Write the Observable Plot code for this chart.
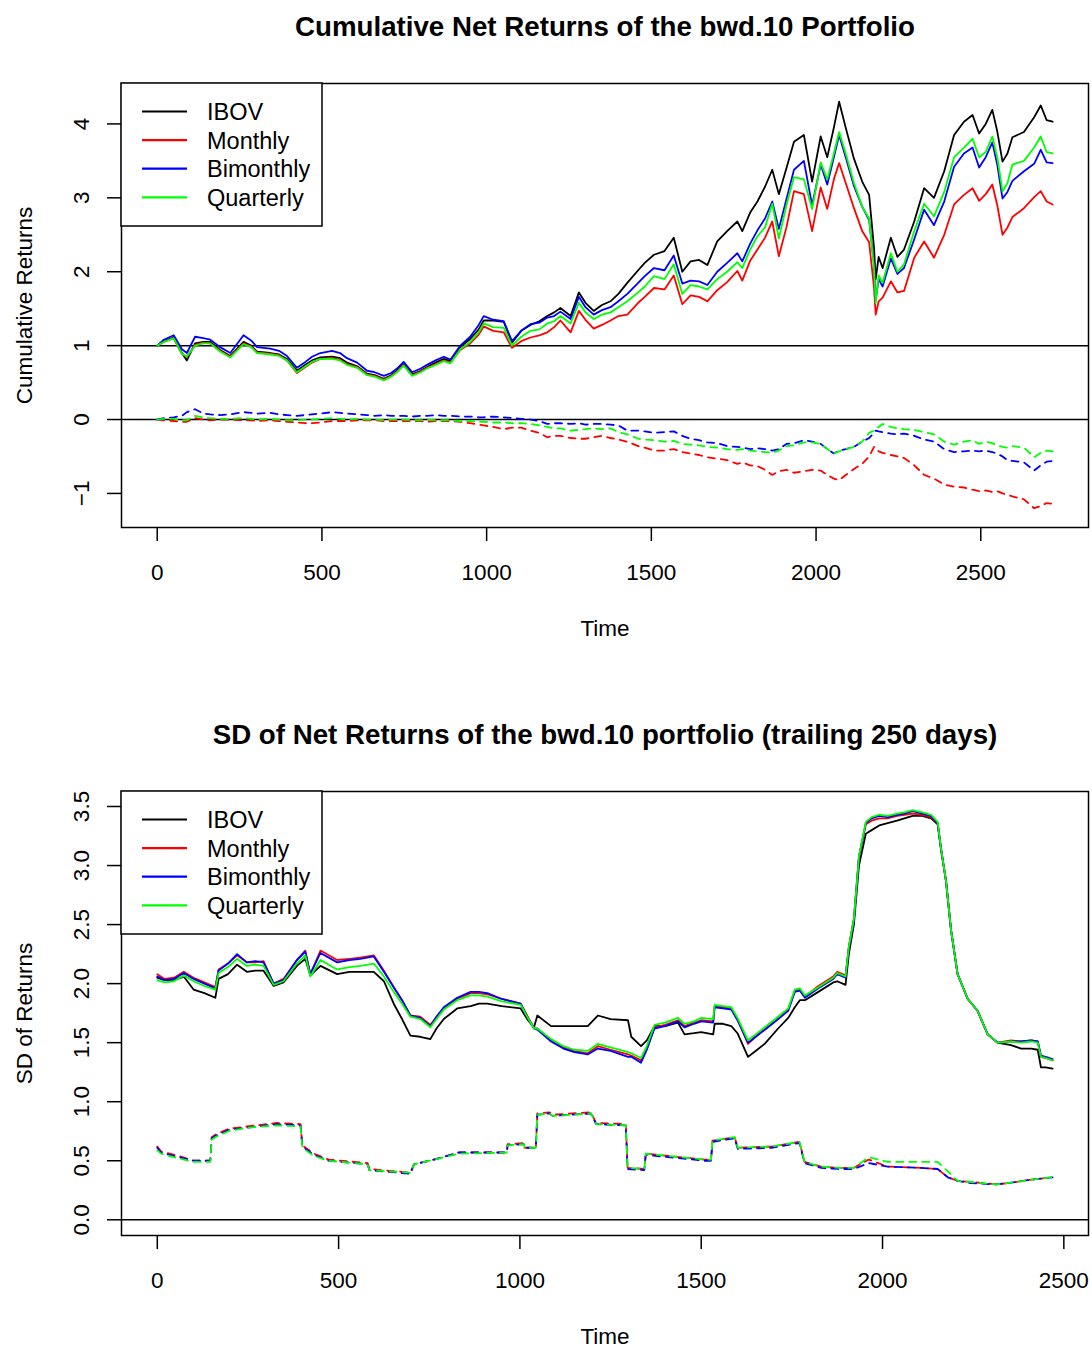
<!DOCTYPE html>
<html><head><meta charset="utf-8">
<script src="https://cdn.jsdelivr.net/npm/d3@7"></script>
<script src="https://cdn.jsdelivr.net/npm/@observablehq/plot@0.6"></script>
<style>
body{margin:0;background:#fff;}
#chart{width:1092px;}
#chart svg{display:block;}
</style></head><body><div id="chart"></div>
<script>
// ---------- shared ----------
const seriesNames = ["IBOV", "Monthly", "Bimonthly", "Quarterly"];
const seriesColors = ["#000000", "#FF0000", "#0000FF", "#00FF00"];

// ---------- panel 1: cumulative net returns ----------
const cumTitle = "Cumulative Net Returns of the bwd.10 Portfolio";
const cumYLabel = "Cumulative Returns";
const cumXTicks = [0, 500, 1000, 1500, 2000, 2500];
const cumYTicks = [-1, 0, 1, 2, 3, 4];
const cumRefLines = [0, 1];
const cumTime = [0,20,50,75,90,115,140,161,191,222,
262,285,303,343,370,394,424,450,470,495,
531,555,576,607,637,660,688,710,728,748,
774,800,819,845,870,890,920,950,976,991,
1020,1052,1077,1105,1133,1160,1184,1205,1224,1255,
1280,1300,1325,1350,1376,1400,1427,1460,1480,1508,
1540,1568,1594,1619,1645,1670,1700,1730,1761,1776,
1800,1822,1845,1867,1887,1910,1933,1963,1988,2014,
2034,2054,2070,2090,2115,2140,2161,2176,2181,2190,
2202,2227,2247,2267,2298,2328,2358,2389,2419,2449,
2475,2495,2515,2535,2550,2566,2581,2596,2631,2662,
2682,2700,2718];
const cumIBOV = [1.00,1.06,1.11,0.90,0.80,1.03,1.05,1.05,0.94,0.86,
1.05,1.00,0.92,0.90,0.88,0.82,0.66,0.74,0.80,0.84,
0.85,0.83,0.77,0.72,0.62,0.60,0.55,0.60,0.66,0.75,
0.61,0.66,0.71,0.77,0.82,0.79,0.98,1.09,1.22,1.34,
1.34,1.32,1.04,1.20,1.28,1.33,1.40,1.45,1.51,1.40,
1.72,1.58,1.47,1.55,1.60,1.70,1.85,2.02,2.12,2.23,
2.28,2.46,2.00,2.14,2.16,2.09,2.41,2.55,2.68,2.55,
2.80,2.95,3.15,3.38,3.05,3.40,3.76,3.85,3.22,3.83,
3.55,3.95,4.30,3.95,3.53,3.22,3.04,2.32,1.90,2.20,
2.05,2.46,2.20,2.30,2.68,3.13,3.00,3.36,3.85,4.03,
4.12,3.87,4.00,4.19,3.90,3.49,3.60,3.82,3.89,4.09,
4.25,4.05,4.03];
const cumMonthly = [1.00,1.05,1.10,0.89,0.85,1.01,1.04,1.03,0.93,0.85,
1.03,0.99,0.91,0.89,0.87,0.80,0.63,0.71,0.77,0.82,
0.83,0.81,0.75,0.71,0.61,0.59,0.54,0.59,0.65,0.74,
0.60,0.65,0.70,0.75,0.80,0.77,0.94,1.03,1.15,1.26,
1.20,1.18,0.97,1.06,1.11,1.14,1.18,1.25,1.34,1.18,
1.47,1.35,1.23,1.28,1.34,1.40,1.42,1.58,1.66,1.78,
1.76,1.95,1.56,1.68,1.66,1.60,1.75,1.86,2.01,1.88,
2.15,2.30,2.46,2.68,2.21,2.60,3.09,3.05,2.55,3.14,
2.85,3.25,3.47,3.20,2.86,2.55,2.40,1.78,1.42,1.60,
1.65,1.87,1.72,1.74,2.19,2.41,2.19,2.50,2.91,3.04,
3.13,2.96,3.05,3.18,2.90,2.50,2.60,2.74,2.86,3.01,
3.09,2.95,2.91];
const cumBimonthly = [1.00,1.08,1.14,0.95,0.90,1.12,1.10,1.08,0.98,0.90,
1.14,1.07,0.98,0.96,0.93,0.86,0.70,0.78,0.85,0.90,
0.93,0.90,0.83,0.77,0.66,0.64,0.59,0.63,0.69,0.78,
0.64,0.69,0.74,0.80,0.85,0.81,1.00,1.12,1.28,1.40,
1.35,1.33,1.06,1.20,1.29,1.31,1.38,1.40,1.46,1.36,
1.66,1.52,1.42,1.48,1.52,1.60,1.70,1.85,1.94,2.05,
2.02,2.22,1.84,1.88,1.87,1.82,2.00,2.12,2.25,2.14,
2.38,2.56,2.72,2.95,2.58,2.98,3.38,3.50,2.90,3.45,
3.18,3.55,3.85,3.55,3.16,2.88,2.70,2.10,1.62,1.90,
1.80,2.18,1.97,2.05,2.44,2.84,2.63,2.95,3.42,3.60,
3.68,3.41,3.55,3.75,3.45,2.99,3.08,3.23,3.36,3.46,
3.65,3.48,3.47];
const cumQuarterly = [1.00,1.05,1.10,0.89,0.85,1.00,1.03,1.03,0.92,0.84,
1.02,0.98,0.90,0.88,0.86,0.80,0.64,0.72,0.78,0.82,
0.82,0.80,0.74,0.70,0.60,0.58,0.53,0.58,0.64,0.73,
0.59,0.64,0.69,0.74,0.79,0.76,0.95,1.05,1.18,1.30,
1.25,1.24,1.00,1.12,1.20,1.22,1.30,1.33,1.40,1.30,
1.58,1.45,1.36,1.42,1.45,1.52,1.60,1.72,1.80,1.94,
1.90,2.10,1.70,1.82,1.80,1.76,1.90,2.00,2.13,2.05,
2.30,2.48,2.60,2.92,2.45,2.90,3.28,3.25,2.85,3.48,
3.25,3.60,3.89,3.60,3.20,2.88,2.72,2.05,1.58,1.95,
1.85,2.25,2.00,2.10,2.55,2.92,2.75,3.08,3.55,3.68,
3.80,3.55,3.62,3.83,3.55,3.09,3.20,3.45,3.50,3.68,
3.83,3.62,3.60];
const cumDiffMonthly = [0.00,-0.01,-0.02,-0.03,-0.03,0.02,0.00,-0.01,0.00,0.00,
-0.01,-0.01,-0.02,-0.01,-0.02,-0.03,-0.04,-0.05,-0.05,-0.04,
-0.02,-0.02,-0.02,-0.01,-0.01,-0.01,-0.02,-0.02,-0.02,-0.02,
-0.02,-0.02,-0.03,-0.02,-0.02,-0.02,-0.03,-0.05,-0.07,-0.08,
-0.10,-0.13,-0.11,-0.11,-0.15,-0.18,-0.24,-0.22,-0.22,-0.25,
-0.26,-0.26,-0.24,-0.22,-0.25,-0.27,-0.30,-0.36,-0.38,-0.42,
-0.42,-0.40,-0.44,-0.46,-0.48,-0.51,-0.53,-0.55,-0.60,-0.58,
-0.62,-0.63,-0.68,-0.75,-0.70,-0.68,-0.72,-0.70,-0.68,-0.69,
-0.75,-0.80,-0.82,-0.75,-0.67,-0.60,-0.50,-0.37,-0.40,-0.43,
-0.45,-0.48,-0.50,-0.52,-0.62,-0.75,-0.80,-0.88,-0.91,-0.92,
-0.95,-0.97,-0.96,-0.98,-0.97,-1.00,-1.02,-1.04,-1.08,-1.20,
-1.17,-1.13,-1.14];
const cumDiffBimonthly = [0.00,0.02,0.03,0.05,0.10,0.14,0.08,0.07,0.06,0.07,
0.10,0.09,0.08,0.09,0.07,0.06,0.05,0.06,0.07,0.08,
0.10,0.09,0.08,0.07,0.06,0.05,0.06,0.05,0.05,0.05,
0.04,0.05,0.05,0.06,0.05,0.05,0.04,0.04,0.03,0.03,
0.04,0.03,0.02,0.01,0.00,-0.02,-0.06,-0.05,-0.05,-0.06,
-0.05,-0.07,-0.06,-0.06,-0.07,-0.08,-0.15,-0.15,-0.16,-0.18,
-0.17,-0.16,-0.22,-0.26,-0.28,-0.31,-0.32,-0.36,-0.37,-0.38,
-0.40,-0.39,-0.40,-0.42,-0.40,-0.33,-0.32,-0.28,-0.30,-0.33,
-0.40,-0.46,-0.42,-0.40,-0.37,-0.30,-0.25,-0.18,-0.15,-0.16,
-0.17,-0.19,-0.20,-0.19,-0.22,-0.27,-0.30,-0.40,-0.44,-0.43,
-0.42,-0.43,-0.42,-0.44,-0.46,-0.50,-0.55,-0.56,-0.58,-0.69,
-0.62,-0.57,-0.56];
const cumDiffQuarterly = [0.00,0.01,0.01,-0.01,-0.01,0.05,0.03,0.02,0.01,0.01,
0.02,0.01,0.00,0.01,0.00,-0.01,-0.01,0.00,0.00,0.01,
0.02,0.01,0.00,0.01,0.00,0.00,-0.01,0.00,0.00,0.00,
-0.01,-0.01,0.00,-0.01,-0.01,-0.01,-0.02,-0.02,-0.03,-0.03,
-0.04,-0.04,-0.05,-0.05,-0.06,-0.08,-0.10,-0.12,-0.12,-0.15,
-0.14,-0.13,-0.12,-0.13,-0.12,-0.17,-0.20,-0.26,-0.27,-0.28,
-0.30,-0.29,-0.33,-0.34,-0.35,-0.37,-0.38,-0.40,-0.41,-0.40,
-0.42,-0.43,-0.44,-0.45,-0.42,-0.36,-0.35,-0.31,-0.31,-0.33,
-0.40,-0.46,-0.43,-0.40,-0.37,-0.30,-0.18,-0.15,-0.12,-0.10,
-0.06,-0.10,-0.12,-0.13,-0.14,-0.17,-0.20,-0.30,-0.34,-0.30,
-0.28,-0.33,-0.30,-0.32,-0.35,-0.37,-0.38,-0.36,-0.38,-0.51,
-0.45,-0.42,-0.43];

// ---------- panel 2: rolling SD ----------
const sdTitle = "SD of Net Returns of the bwd.10 portfolio (trailing 250 days)";
const sdYLabel = "SD of Returns";
const sdXTicks = [0, 500, 1000, 1500, 2000, 2500];
const sdYTicks = [0, 0.5, 1, 1.5, 2, 2.5, 3, 3.5];
const sdRefLines = [0];
const sdTime = [0,20,46,73,100,130,160,169,195,220,
247,270,293,321,348,385,408,422,450,496,
530,560,597,625,652,675,698,725,753,770,
790,827,864,887,910,950,1002,1020,1039,1048,
1086,1120,1150,1187,1215,1250,1298,1307,1334,1350,
1371,1400,1436,1454,1480,1500,1533,1537,1560,1583,
1600,1629,1650,1675,1712,1740,1758,1772,1786,1823,
1864,1875,1898,1907,1921,1935,1954,1970,1991,2014,
2040,2060,2083,2110,2134,2152,2161,2175,2189,2207,
2235,2262,2290,2317,2354,2382,2410,2428,2437,2450,
2469];
const sdIBOV = [2.05,2.03,2.03,2.06,1.95,1.92,1.88,2.04,2.08,2.16,
2.10,2.11,2.11,1.98,2.01,2.15,2.21,2.07,2.15,2.08,
2.10,2.10,2.10,2.02,1.83,1.70,1.56,1.55,1.53,1.62,
1.70,1.79,1.81,1.83,1.83,1.81,1.79,1.70,1.63,1.73,
1.64,1.64,1.64,1.64,1.73,1.70,1.69,1.55,1.47,1.52,
1.64,1.64,1.67,1.57,1.58,1.59,1.57,1.66,1.66,1.64,
1.58,1.38,1.43,1.49,1.62,1.71,1.80,1.86,1.86,1.93,
2.01,2.02,1.99,2.25,2.50,3.00,3.27,3.30,3.34,3.36,
3.38,3.40,3.42,3.42,3.40,3.35,3.14,2.87,2.45,2.08,
1.87,1.77,1.57,1.50,1.48,1.45,1.45,1.44,1.29,1.29,
1.28];
const sdMonthly = [2.08,2.04,2.05,2.10,2.05,2.01,1.97,2.12,2.17,2.24,
2.18,2.18,2.19,2.00,2.04,2.20,2.28,2.08,2.28,2.20,
2.21,2.22,2.24,2.11,1.97,1.86,1.73,1.72,1.65,1.72,
1.79,1.87,1.92,1.92,1.91,1.87,1.83,1.73,1.62,1.62,
1.52,1.46,1.43,1.41,1.47,1.44,1.40,1.39,1.35,1.45,
1.63,1.65,1.69,1.64,1.67,1.69,1.68,1.81,1.80,1.79,
1.70,1.49,1.55,1.61,1.70,1.78,1.94,1.95,1.89,1.98,
2.06,2.10,2.07,2.31,2.55,3.08,3.35,3.38,3.40,3.40,
3.42,3.43,3.44,3.43,3.41,3.36,3.15,2.87,2.45,2.08,
1.87,1.77,1.57,1.50,1.52,1.51,1.52,1.51,1.38,1.37,
1.35];
const sdBimonthly = [2.06,2.03,2.04,2.09,2.04,2.00,1.96,2.11,2.17,2.25,
2.18,2.19,2.18,2.00,2.03,2.20,2.27,2.08,2.26,2.18,
2.20,2.21,2.23,2.10,1.97,1.86,1.73,1.71,1.64,1.72,
1.80,1.88,1.93,1.93,1.92,1.87,1.83,1.72,1.62,1.61,
1.51,1.45,1.42,1.40,1.45,1.43,1.38,1.38,1.33,1.44,
1.62,1.64,1.68,1.63,1.66,1.68,1.67,1.80,1.79,1.78,
1.69,1.50,1.55,1.61,1.70,1.77,1.93,1.94,1.88,1.96,
2.04,2.08,2.05,2.30,2.54,3.07,3.36,3.40,3.42,3.41,
3.43,3.44,3.46,3.44,3.42,3.36,3.15,2.87,2.45,2.08,
1.87,1.77,1.57,1.50,1.51,1.51,1.52,1.51,1.39,1.38,
1.36];
const sdQuarterly = [2.03,2.01,2.02,2.07,2.02,1.98,1.95,2.09,2.14,2.21,
2.15,2.16,2.15,1.99,2.02,2.17,2.24,2.06,2.20,2.12,
2.14,2.15,2.17,2.06,1.93,1.83,1.72,1.70,1.63,1.70,
1.78,1.86,1.90,1.90,1.89,1.85,1.82,1.72,1.62,1.62,
1.53,1.47,1.44,1.43,1.49,1.46,1.42,1.41,1.37,1.47,
1.65,1.67,1.71,1.66,1.68,1.71,1.70,1.82,1.81,1.80,
1.71,1.52,1.57,1.63,1.72,1.79,1.95,1.96,1.90,1.97,
2.05,2.09,2.06,2.31,2.55,3.08,3.37,3.41,3.43,3.42,
3.44,3.45,3.47,3.45,3.43,3.37,3.15,2.87,2.45,2.08,
1.87,1.77,1.57,1.50,1.51,1.50,1.51,1.50,1.38,1.37,
1.35];
const sdDiffTime = [0,10,34,60,100,146,150,160,196,247,
330,395,400,432,473,580,585,698,708,763,
832,964,966,1011,1013,1044,1048,1081,1090,1196,
1210,1292,1297,1343,1347,1380,1509,1527,1531,1592,
1601,1693,1771,1785,1831,1880,1921,1962,2014,2106,
2152,2180,2207,2244,2313,2345,2410,2469];
const sdDiffMonthly = [0.62,0.58,0.56,0.54,0.50,0.50,0.70,0.72,0.77,0.79,
0.82,0.81,0.63,0.56,0.51,0.48,0.43,0.40,0.47,0.51,
0.57,0.57,0.64,0.65,0.61,0.61,0.90,0.91,0.89,0.91,
0.82,0.81,0.44,0.43,0.56,0.55,0.51,0.51,0.67,0.70,
0.61,0.62,0.66,0.49,0.45,0.44,0.44,0.51,0.45,0.44,
0.43,0.36,0.33,0.32,0.30,0.31,0.34,0.36];
const sdDiffBimonthly = [0.61,0.57,0.55,0.53,0.50,0.50,0.69,0.71,0.76,0.78,
0.81,0.80,0.62,0.55,0.50,0.47,0.42,0.39,0.47,0.51,
0.57,0.57,0.63,0.64,0.61,0.61,0.89,0.90,0.88,0.90,
0.81,0.80,0.43,0.42,0.55,0.54,0.50,0.50,0.66,0.69,
0.60,0.61,0.65,0.48,0.44,0.43,0.43,0.48,0.45,0.44,
0.43,0.36,0.33,0.31,0.30,0.31,0.34,0.36];
const sdDiffQuarterly = [0.59,0.56,0.54,0.52,0.49,0.49,0.68,0.70,0.75,0.78,
0.80,0.79,0.61,0.54,0.50,0.47,0.42,0.40,0.47,0.51,
0.56,0.57,0.63,0.64,0.61,0.61,0.89,0.90,0.88,0.90,
0.81,0.80,0.44,0.43,0.56,0.55,0.51,0.51,0.67,0.70,
0.61,0.62,0.66,0.49,0.45,0.44,0.44,0.53,0.49,0.49,
0.49,0.41,0.33,0.32,0.30,0.31,0.34,0.36];

// ---------- drawing ----------
const FONT = "'Liberation Sans', Arial, Helvetica, sans-serif";
const FS = 22.5;
const LEGEND_FS = 23.5;
const pairs = (time, vals) => time.map((t, i) => ({t, v: vals[i]}));
const fmtY1 = d => (d < 0 ? "\u2212" + Math.abs(d) : String(d));
const fmtY2 = d => d3.format(".1f")(d);

function panel({height, xDomain, yDomain, xTicks, yTicks, yFmt, refLines, title, yLabel, solid, dashed}) {
  const marks = [
    Plot.ruleY(refLines, {stroke: "black", strokeWidth: 1.5}),
    ...solid.map(([time, vals], i) => Plot.line(pairs(time, vals), {x: "t", y: "v", stroke: seriesColors[i], strokeWidth: 1.8})),
    ...dashed.map(([time, vals], i) => Plot.line(pairs(time, vals), {x: "t", y: "v", stroke: seriesColors[i + 1], strokeWidth: 1.8, strokeDasharray: "7,6"})),
    Plot.frame({stroke: "black", strokeWidth: 1.5}),
    Plot.axisX({ticks: xTicks, tickSize: 14, tickPadding: 23, tickFormat: d => String(d), fontSize: FS, strokeWidth: 1.5, label: null}),
    Plot.axisY({ticks: yTicks, tickSize: 14, tickPadding: 19, tickRotate: -90, tickFormat: yFmt, fontSize: FS, strokeWidth: 1.5, label: null}),
    Plot.text([title], {frameAnchor: "top", dy: -48, lineAnchor: "bottom", fontSize: 27.7, fontWeight: "bold", fill: "black"}),
    Plot.text(["Time"], {frameAnchor: "bottom", dy: 108, lineAnchor: "bottom", fontSize: FS, fill: "black"}),
    Plot.text([yLabel], {frameAnchor: "left", dx: -89.5, rotate: -90, lineAnchor: "bottom", textAnchor: "middle", fontSize: FS, fill: "black"})
  ];
  const svg = Plot.plot({
    width: 1092, height,
    marginTop: 83, marginBottom: height - 527, marginLeft: 121, marginRight: 4,
    style: {fontFamily: FONT, fontSize: FS + "px", background: "white", color: "black", overflow: "visible"},
    x: {domain: xDomain, label: null},
    y: {domain: yDomain, label: null},
    marks
  });
  // legend (topleft, like R's legend())
  const g = d3.select(svg).append("g")
    .attr("font-family", FONT).attr("font-size", LEGEND_FS).attr("text-anchor", "start");
  g.append("rect").attr("x", 121).attr("y", 83).attr("width", 201).attr("height", 143)
    .attr("fill", "white").attr("stroke", "black").attr("stroke-width", 1.5);
  seriesNames.forEach((name, i) => {
    const y = 111.5 + i * 28.6;
    g.append("line").attr("x1", 142).attr("x2", 187).attr("y1", y).attr("y2", y)
      .attr("stroke", seriesColors[i]).attr("stroke-width", 2.2);
    g.append("text").attr("x", 207).attr("y", y).attr("dy", "0.36em")
      .attr("text-anchor", "start").attr("fill", "black").text(name);
  });
  return svg;
}

const chart = document.getElementById("chart");
chart.appendChild(panel({
  height: 708, xDomain: [-108.4, 2827], yDomain: [-1.461, 4.547],
  xTicks: cumXTicks, yTicks: cumYTicks, yFmt: fmtY1, refLines: cumRefLines,
  title: cumTitle, yLabel: cumYLabel,
  solid: [[cumTime, cumIBOV], [cumTime, cumMonthly], [cumTime, cumBimonthly], [cumTime, cumQuarterly]],
  dashed: [[cumTime, cumDiffMonthly], [cumTime, cumDiffBimonthly], [cumTime, cumDiffQuarterly]]
}));
chart.appendChild(panel({
  height: 640, xDomain: [-98.7, 2568], yDomain: [-0.133, 3.627],
  xTicks: sdXTicks, yTicks: sdYTicks, yFmt: fmtY2, refLines: sdRefLines,
  title: sdTitle, yLabel: sdYLabel,
  solid: [[sdTime, sdIBOV], [sdTime, sdMonthly], [sdTime, sdBimonthly], [sdTime, sdQuarterly]],
  dashed: [[sdDiffTime, sdDiffMonthly], [sdDiffTime, sdDiffBimonthly], [sdDiffTime, sdDiffQuarterly]]
}));
</script>
</body></html>
